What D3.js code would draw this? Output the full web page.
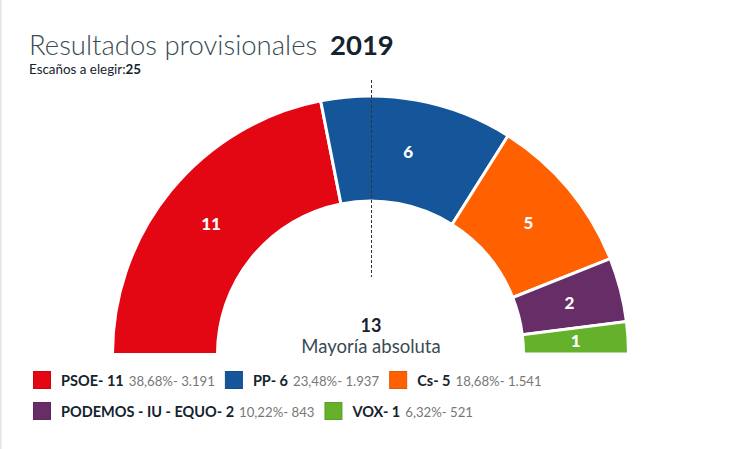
<!DOCTYPE html>
<html>
<head>
<meta charset="utf-8">
<script src="https://d3js.org/d3.v7.min.js"></script>
<style>
  html, body { margin: 0; padding: 0; background: #fff; }
  svg { display: block; font-family: Lato, "Open Sans", sans-serif; }
</style>
</head>
<body>
<svg id="chart" width="730" height="449"></svg>
<script>
var parties = ["PSOE", "PP", "Cs", "PODEMOS - IU - EQUO", "VOX"];
var seats = [11, 6, 5, 2, 1];
var percents = ["38,68%", "23,48%", "18,68%", "10,22%", "6,32%"];
var votes = ["3.191", "1.937", "1.541", "843", "521"];
var colors = ["#e30613", "#15569b", "#ff6000", "#662d66", "#65b12c"];
var legendRows = [[0, 1, 2], [3, 4]];

var svg = d3.select("#chart");
var cx = 370.5, cy = 354;

// thin border on the left of the screenshot
svg.append("rect").attr("x", 0).attr("y", 0).attr("width", 1.5).attr("height", 449).attr("fill", "#dfe6e8");

svg.append("text").attr("x", 29).attr("y", 55)
  .attr("font-size", 27.5).attr("font-weight", 300).attr("fill", "#3a4a54")
  .text("Resultados provisionales");
svg.append("text").attr("x", 330).attr("y", 55)
  .attr("font-size", 27.5).attr("font-weight", 700).attr("fill", "#14232e")
  .text("2019");
var sub = svg.append("text").attr("x", 29).attr("y", 74)
  .attr("font-size", 13.4).attr("fill", "#14232e");
sub.append("tspan").text("Escaños a elegir:");
sub.append("tspan").attr("font-weight", 700).text("25");

// the reference arc sits a touch counter-clockwise, the overhang is clipped at the baseline
var pie = d3.pie().sort(null)
  .startAngle(-90.6 * Math.PI / 180).endAngle(Math.PI / 2);
var arc = d3.arc().innerRadius(153).outerRadius(258);

svg.append("clipPath").attr("id", "base")
  .append("rect").attr("x", 0).attr("y", 0).attr("width", 730).attr("height", 353);

var g = svg.append("g").attr("clip-path", "url(#base)")
  .append("g").attr("transform", "translate(" + cx + "," + cy + ")");
var slices = pie(seats);

g.selectAll("path").data(slices).enter().append("path")
  .attr("d", arc)
  .attr("fill", function (d, i) { return colors[i]; })
  .attr("stroke", "#fff").attr("stroke-width", 3);

g.selectAll("text").data(slices).enter().append("text")
  .attr("transform", function (d) { return "translate(" + arc.centroid(d) + ")"; })
  .attr("text-anchor", "middle").attr("dy", "0.36em")
  .attr("font-size", 17).attr("font-weight", 900).attr("fill", "#fff")
  .text(function (d) { return d.data; });

// majority line
svg.append("line").attr("x1", 371.5).attr("x2", 371.5).attr("y1", 80).attr("y2", 277)
  .attr("stroke", "#333").attr("stroke-width", 1).attr("stroke-dasharray", "3,2");

svg.append("text").attr("x", 371).attr("y", 332).attr("text-anchor", "middle")
  .attr("font-size", 18).attr("font-weight", 700).attr("fill", "#14232e").text("13");
svg.append("text").attr("x", 371).attr("y", 353).attr("text-anchor", "middle")
  .attr("font-size", 18.5).attr("fill", "#3a4a54").text("Mayoría absoluta");

// legend, items flow along each row
legendRows.forEach(function (row, r) {
  var x = 33, y = 371 + r * 31;
  row.forEach(function (i) {
    svg.append("rect").attr("x", x + 0.5).attr("y", y + 0.5).attr("width", 17).attr("height", 17)
      .attr("fill", colors[i]).attr("stroke", d3.color(colors[i]).darker(0.3));
    var t = svg.append("text").attr("x", x + 28).attr("y", y + 15);
    t.append("tspan").attr("font-size", 14.5).attr("font-weight", 700).attr("fill", "#14232e")
      .text(parties[i] + "- " + seats[i]);
    t.append("tspan").attr("dx", 5).attr("font-size", 13.2).attr("fill", "#777")
      .text(percents[i] + "- " + votes[i]);
    x += 28 + t.node().getComputedTextLength() + 5 + 10;
  });
});
</script>
</body>
</html>
